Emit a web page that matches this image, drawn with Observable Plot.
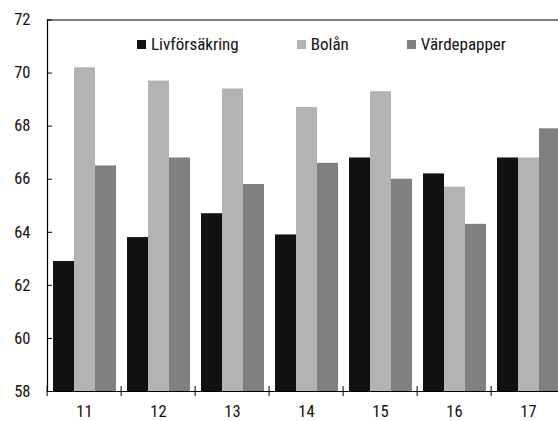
<!DOCTYPE html>
<html><head><meta charset="utf-8">
<script src="https://cdn.jsdelivr.net/npm/d3@7"></script>
<script src="https://cdn.jsdelivr.net/npm/@observablehq/plot@0.6"></script>
<style>
body{margin:0;background:#fff}
#chart{position:relative;width:558px;height:421px;overflow:hidden;font-family:"Roboto Condensed",Roboto,sans-serif;font-stretch:condensed;color:#111}
#chart svg{position:absolute;left:0;top:0}
#legend{position:absolute;left:137px;top:35px;display:flex;gap:58px;font-size:17px;line-height:18px}
.item{display:flex;align-items:center}
.sw{width:9px;height:9px;margin-right:5px}
</style></head><body><div id="chart"></div>
<script>
const categories = ["11","12","13","14","15","16","17"];
const series = ["Livförsäkring","Bolån","Värdepapper"];
const livforsakring = [62.9,63.8,64.7,63.9,66.8,66.2,66.8];
const bolan = [70.2,69.7,69.4,68.7,69.3,65.7,66.8];
const vardepapper = [66.5,66.8,65.8,66.6,66.0,64.3,67.9];
const yTicks = [58,60,62,64,66,68,70,72];
const colors = ["#111111","#b3b3b3","#808080"];

const values = [livforsakring, bolan, vardepapper];
const data = categories.flatMap((c,i)=>series.map((s,j)=>({cat:c, series:s, value:values[j][i]})));

const fxRange = [44, 567.4];
const step = (fxRange[1]-fxRange[0])/categories.length;
const font = '"Roboto Condensed",Roboto,sans-serif';

const plot = Plot.plot({
  width: 558, height: 421,
  marginLeft: 44, marginTop: 19.5, marginBottom: 30, marginRight: 0,
  style: {fontFamily: font, fontStretch: "condensed", fontSize: "16.5px", color: "#111", background: "transparent"},
  fx: {domain: categories, range: fxRange, padding: 0, label: null},
  x: {domain: series, paddingInner: 0, paddingOuter: 0.25, axis: null},
  y: {domain: [yTicks[0], yTicks[yTicks.length-1]], label: null},
  color: {domain: series, range: colors},
  marks: [
    Plot.barY(data, {fx: "cat", x: "series", y1: yTicks[0], y2: "value", fill: "series", inset: 0}),
    Plot.ruleY([yTicks[0], yTicks[yTicks.length-1]], {stroke: "#000", strokeWidth: 1.2}),
    Plot.frame({anchor: "left", facetAnchor: "left", stroke: "#000", strokeWidth: 1.2}),
    Plot.axisY(yTicks, {tickSize: 0, tickPadding: 17, label: null, fill: "#111"}),
    Plot.axisY(yTicks, {tickSize: 5, dx: 5, label: null, fill: "none", stroke: "#000"}),
    Plot.axisFx({anchor: "bottom", tickSize: 10, dy: -5, dx: -step/2, label: null, fill: "none", stroke: "#000"}),
    Plot.axisFx({anchor: "bottom", tickSize: 0, tickPadding: 14, label: null, fill: "#111"})
  ]
});
const chart = document.getElementById("chart");
chart.appendChild(plot);

const legend = document.createElement("div");
legend.id = "legend";
series.forEach((s,i)=>{
  const it = document.createElement("div"); it.className = "item";
  const sw = document.createElement("span"); sw.className = "sw"; sw.style.background = colors[i];
  const t = document.createElement("span"); t.textContent = s;
  it.appendChild(sw); it.appendChild(t); legend.appendChild(it);
});
chart.appendChild(legend);
</script></body></html>
